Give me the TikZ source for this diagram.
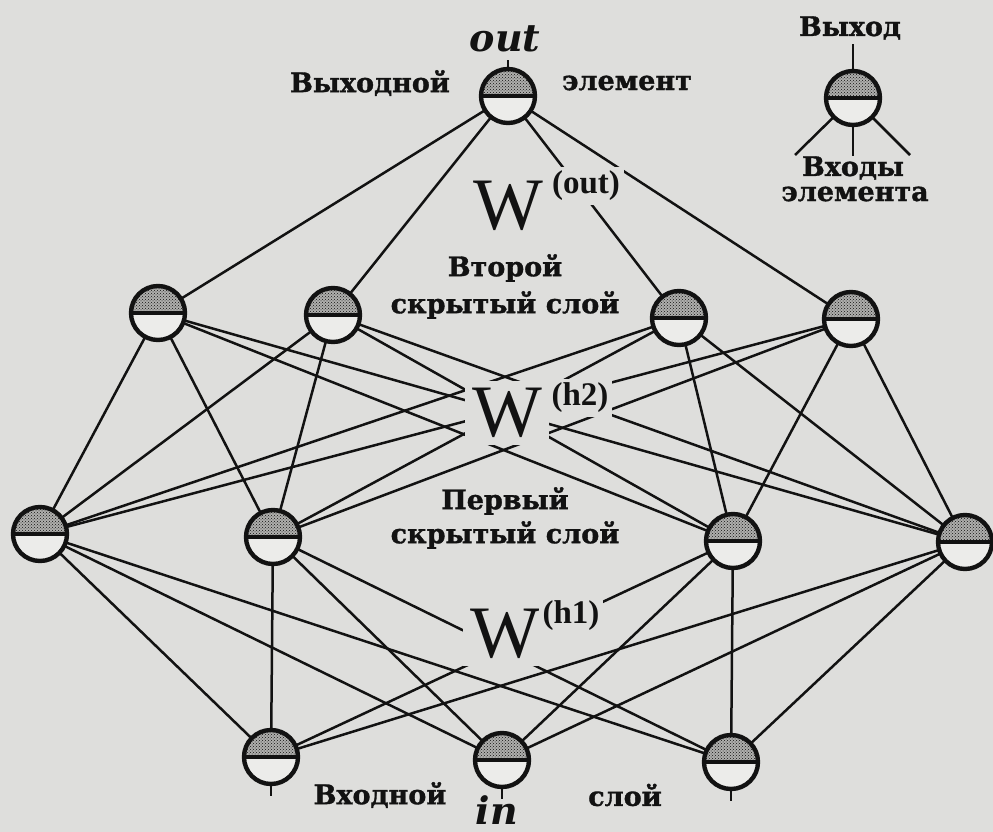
\documentclass[tikz,border=0pt]{standalone}
\usepackage{fontspec}
\newfontfamily\lblfont{DejaVu Serif}[BoldFeatures={FakeBold=1.2}]
\newfontfamily\wfont{Liberation Serif}
\usetikzlibrary{patterns}
\definecolor{bg}{RGB}{222,222,220}
\definecolor{nodelight}{RGB}{236,236,234}
\definecolor{nodegray}{RGB}{175,175,173}
\definecolor{ink}{RGB}{18,18,18}
\begin{document}
\begin{tikzpicture}[x=1pt,y=-1pt,
  neuron/.style={circle, draw=ink, line width=4.4pt, minimum size=54pt, inner sep=0pt, outer sep=0pt, fill=nodelight,
    path picture={
      \fill[nodegray] (path picture bounding box.north west) rectangle (path picture bounding box.east);
      \fill[pattern=crosshatch dots, pattern color=ink] (path picture bounding box.north west) rectangle (path picture bounding box.east);
      \draw[ink, line width=3.4pt] (path picture bounding box.west) -- (path picture bounding box.east);
    }},
  link/.style={draw=ink, line width=2.5pt},
  lbl/.style={font=\lblfont\bfseries\fontsize{27}{31}\selectfont, text=ink, align=center, inner sep=0pt},
  wlbl/.style={font=\wfont\fontsize{74}{74}\selectfont, fill=bg, inner sep=7pt, text=ink},
  suplbl/.style={font=\wfont\bfseries\fontsize{33}{33}\selectfont, fill=bg, inner sep=4pt, text=ink},
  iolbl/.style={font=\lblfont\bfseries\itshape\fontsize{38}{38}\selectfont, text=ink, inner sep=0pt},
]
\useasboundingbox (0,0) rectangle (993,832);
\fill[bg] (0,0) rectangle (993,832);

% neurons
\node[neuron] (out) at (508,96) {};
\node[neuron] (a1) at (158,313) {};
\node[neuron] (a2) at (333,315) {};
\node[neuron] (a3) at (679,318) {};
\node[neuron] (a4) at (851,319) {};
\node[neuron] (b1) at (40,534) {};
\node[neuron] (b2) at (273,537) {};
\node[neuron] (b3) at (733,541) {};
\node[neuron] (b4) at (965,542) {};
\node[neuron] (c1) at (271,757) {};
\node[neuron] (c2) at (502,760) {};
\node[neuron] (c3) at (731,762) {};
\node[neuron] (lg) at (853,98) {};

% free ends
\coordinate (outtop) at (508,60);
\coordinate (c1s) at (271,796);
\coordinate (c2s) at (502,799);
\coordinate (c3s) at (731,801);
\coordinate (lgtop) at (853,44);
\coordinate (lgl) at (795,155);
\coordinate (lgm) at (853,156);
\coordinate (lgr) at (910,155);

% connectors
\foreach \a in {a1,a2,a3,a4} \draw[link] (out) -- (\a);
\foreach \a in {a1,a2,a3,a4} \foreach \b in {b1,b2,b3,b4} \draw[link] (\a) -- (\b);
\foreach \b in {b1,b2,b3,b4} \foreach \c in {c1,c2,c3} \draw[link] (\b) -- (\c);
\draw[link] (out) -- (outtop);
\draw[link] (c1) -- (c1s);
\draw[link] (c2) -- (c2s);
\draw[link] (c3) -- (c3s);
\draw[link] (lg) -- (lgtop);
\draw[link] (lg) -- (lgl);
\draw[link] (lg) -- (lgm);
\draw[link] (lg) -- (lgr);

% labels
\node[iolbl] (tout) at (505,39) {out};
\node[lbl] (toutl) at (370,83) {Выходной};
\node[lbl] (toutr) at (627,83) {элемент};
\node[wlbl] (w3) at (508,206) {W};
\node[suplbl] (s3) at (586,186) {(out)};
\node[lbl] (t2a) at (505,268) {Второй};
\node[lbl] (t2b) at (505,305) {скрытый слой};
\node[wlbl] (w2) at (507,413) {W};
\node[suplbl] (s2) at (580,398) {(h2)};
\node[lbl] (t1a) at (505,501) {Первый};
\node[lbl] (t1b) at (505,535) {скрытый слой};
\node[wlbl] (w1) at (505,634) {W};
\node[suplbl] (s1) at (571,616) {(h1)};
\node[lbl] (tinl) at (380,795) {Входной};
\node[lbl] (tinr) at (625,795) {слой};
\node[iolbl] (tin) at (497,810) {in};
\node[lbl] (lgout) at (850,28) {Выход};
\node[lbl] (lgin1) at (853,168) {Входы};
\node[lbl] (lgin2) at (855,194) {элемента};
\end{tikzpicture}
\end{document}
